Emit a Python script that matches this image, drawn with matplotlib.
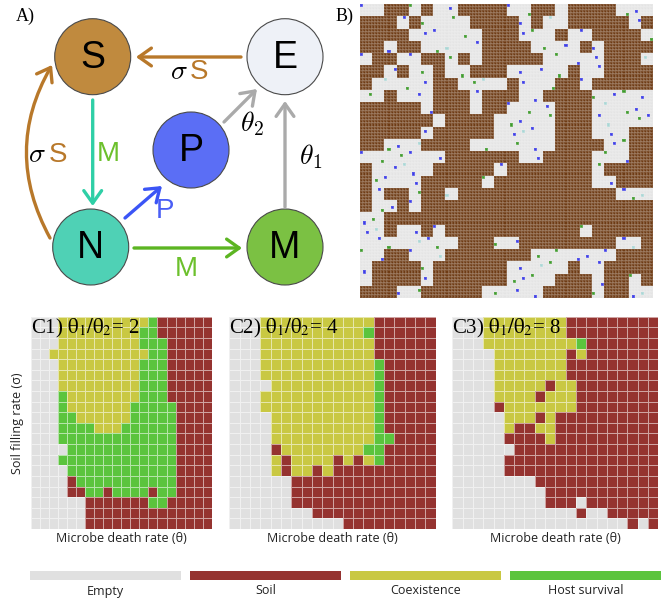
import matplotlib
matplotlib.use("Agg")
import matplotlib.pyplot as plt
import numpy as np
from matplotlib.colors import ListedColormap
from matplotlib.patches import Circle, FancyArrowPatch, Rectangle

W, H = 670, 604

# ---- phase diagrams (row 0 = top of the panel) ----
# E = empty, S = soil, C = coexistence, H = host survival
phase_keys = "ESCH"
phase_names = ["Empty", "Soil", "Coexistence", "Host survival"]
phase_colors = ["#e0e0e0", "#953330", "#c9c842", "#5bc43d"]

c1_rows = [
    "EEECCCCCCCCCCHSSSSSS",
    "EEECCCCCCCCCHHSSSSSS",
    "EEECCCCCCCCCHHHSSSSS",
    "EECCCCCCCCCCCHHSSSSS",
    "EEECCCCCCCCCHHHSSSSS",
    "EEECCCCCCCCCHHHSSSSS",
    "EEECCCCCCCCCHHHSSSSS",
    "EEEHCCCCCCCCHHHSSSSS",
    "EEEHCCCCCCCHHHHHSSSS",
    "EEEHHCCCCCCHHHHHSSSS",
    "EEEHHHHCCCHHHHHHSSSS",
    "EEEHHHHHHHHHHHHHSSSS",
    "EEEEHHHHHHHHHHHHSSSS",
    "EEEHHHHHHHHHHHHHSSSS",
    "EEEEHHHHHHHHHHHHSSSS",
    "EEEESHHHHHHHHHHHSSSS",
    "EEEESSHHSHHHHSHHSSSS",
    "EEEEEESSSSSSSHHSSSSS",
    "EEEEEESSSSSSSSSSSSSS",
    "EEEEEESSSSSSSSSSSSSS",
]
c2_rows = [
    "EEECCCCCCCCCCCSSSSSS",
    "EEECCCCCCCCCCHSSSSSS",
    "EEECCCCCCCCCCCSSSSSS",
    "EEECCCCCCCCCCCSSSSSS",
    "EEECCCCCCCCCCCHSSSSS",
    "EEECCCCCCCCCCCHSSSSS",
    "EEEECCCCCCCCCCHSSSSS",
    "EEECCCCCCCCCCCHSSSSS",
    "EEECCCCCCCCCCCHSSSSS",
    "EEEECCCCCCCCCCHSSSSS",
    "EEEECCCCCCCCCCHSSSSS",
    "EEEECCCCCCCCCCHHSSSS",
    "EEEESCCCCCCCCHHSSSSS",
    "EEEECSCCCCSCSCHSSSSS",
    "EEEECSCCSCSSSSSSSSSS",
    "EEEEEESSSSSSSSSSSSSS",
    "EEEEEESSSSSSSSSSSSSS",
    "EEEEEESSSSSSSSSSSSSS",
    "EEEEEEEESSSSSSSSSSSS",
    "EEEEEEEEEEESSSSSSSSS",
]
c3_rows = [
    "EEECCCCCCCCSSSSSSSSS",
    "EEECCCCCCCCSSSSSSSSS",
    "EEECCCCCCCCCHSSSSSSS",
    "EEEECCCCCCCSCSSSSSSS",
    "EEEECCCCCCCSSSSSSSSS",
    "EEEECCCCCCCSSSSSSSSS",
    "EEEECCCCCSCCSSSSSSSS",
    "EEEECCCCSCCCSSSSSSSS",
    "EEEESCCCCCCCSSSSSSSS",
    "EEEEECCCSCSSSSSSSSSS",
    "EEEEECSSCCSSSSSSSSSS",
    "EEEEESSSSCSSSSSSSSSS",
    "EEEEEESSSSSSSSSSSSSS",
    "EEEEESSSSSSSSSSSSSSS",
    "EEEEESSSSSSSSSSSSSSS",
    "EEEEEEEESSSSSSSSSSSS",
    "EEEEEEEEESSSSSSSSSSS",
    "EEEEEEEEESSSESSSSSSS",
    "EEEEEEEEEEEESEESSSSS",
    "EEEEEEEEEEEEEEEEESES",
]
ratio_values = [2, 4, 8]

# ---- lattice snapshot: '#' soil, '.' empty, 'b' parasite, 'g' microbe, 't' nurse ----
lattice_rows = [
    "b.##g#.b####bg##.####gb.",
    "###b#g.g.####b#t.#####b#",
    "####.bb.g.###bg.#.b####g",
    "##b##.gt.b####.gb.#b####",
    "b##.b##g#.#####.gb.b###t",
    "##b#.g#.g###.bb.g#.b####",
    "#.tg.b##.gt.#b.g##b#####",
    "g.#.b.###b###.b####gbg.b",
    "#####b###.##bg.b###.tgb.",
    "######.####.gb.g###bt.gb",
    "#####b#####.btb.###.b.##",
    "##gbt####.g.g.b.####bg##",
    "bg.gb.b######.b####.gb##",
    "#.btb.#####b#######g####",
    "#gb.b#####g########.b###",
    "#b##g##t#############bgt",
    "#gb#b###################",
    "bg######################",
    "bt#.b#b###########g#####",
    ".bg.tbg.###gb########bt#",
    "gb##b.t#######g.gbb.b###",
    "b####g######.btg.#.b####",
    ".####b######gbg.###b##g#",
    "###bg#####.gb.b####g##bt",
]
lattice_colors = ["#e4e4e4", "#6e3b14", "#3c3ce6", "#3e9a2c", "#a9d6d4"]

plt.rcParams["mathtext.fontset"] = "stix"
fig = plt.figure(figsize=(W / 100, H / 100), dpi=100)


def px_axes(x0, y0, x1, y1):
    return fig.add_axes([x0 / W, 1 - y1 / H, (x1 - x0) / W, (y1 - y0) / H])


# overlay in pixel coordinates for the network diagram and legend
ov = px_axes(0, 0, W, H)
ov.set_xlim(0, W)
ov.set_ylim(H, 0)
ov.axis("off")

nodes = {
    "S": ((92.7, 56.7), "#c08a3e"),
    "E": ((285, 56.7), "#eef1f7"),
    "P": ((191, 150), "#5b6ef5"),
    "N": ((90.7, 247), "#4fd1b5"),
    "M": ((285, 247), "#7bc143"),
}
for name, (xy, col) in nodes.items():
    ov.add_patch(Circle(xy, 38, facecolor=col, edgecolor="#4a4a4a", lw=0.8))
    ov.text(xy[0], xy[1] + 1, name, ha="center", va="center", fontsize=27,
            family="Liberation Sans", color="black")

brown = "#b8782a"
arrows = [
    ((241, 57), (136, 57), brown, "arc3"),
    ((92.7, 100), (92.7, 206), "#2fcfa6", "arc3"),
    ((125, 218), (162, 186), "#3b55f6", "arc3"),
    ((134, 248), (242, 248), "#5cb522", "arc3"),
    ((224, 122), (257, 89), "#aaaaaa", "arc3"),
    ((285, 207), (285, 101), "#aaaaaa", "arc3"),
    ((50, 238), (52, 65), brown, "arc3,rad=-0.28"),
]
for a, b, col, conn in arrows:
    ov.add_patch(FancyArrowPatch(a, b, arrowstyle="->,head_length=0.45,head_width=0.32",
                                 mutation_scale=20, lw=2.4, color=col,
                                 connectionstyle=conn, shrinkA=0, shrinkB=0))

lab = dict(ha="center", va="center", fontsize=20)
ov.text(179, 71, r"$\sigma$", color="black", math_fontfamily="cm", **lab)
ov.text(199, 72, "S", color=brown, family="Liberation Sans", **lab)
ov.text(37, 154, r"$\sigma$", color="black", math_fontfamily="cm", **lab)
ov.text(58, 155, "S", color=brown, family="Liberation Sans", **lab)
ov.text(108, 154, "M", color="#6cc02c", family="Liberation Sans", **lab)
ov.text(165, 211, "P", color="#4a5ef5", family="Liberation Sans", **lab)
ov.text(186, 269, "M", color="#6cc02c", family="Liberation Sans", **lab)
ov.text(252, 124, r"$\theta_2$", color="black", math_fontfamily="cm", **lab)
ov.text(311, 157, r"$\theta_1$", color="black", math_fontfamily="cm", **lab)

ov.text(16, 16, "A)", fontsize=13, family="Liberation Serif", va="center")
ov.text(336, 16, "B)", fontsize=13, family="Liberation Serif", va="center")

# ---- panel B: lattice ----
axB = px_axes(360, 4, 653, 298)
key = {".": 0, "#": 1, "b": 2, "g": 3, "t": 4}
assert all(len(r) == 24 for r in lattice_rows)
coarse = np.array([[key[ch] for ch in row] for row in lattice_rows])
k = 4
fine = np.kron(np.where(coarse == 1, 1, 0), np.ones((k, k), dtype=int))
for r, c in zip(*np.nonzero(coarse >= 2)):
    dr, dc = (r * 7 + c * 3) % k, (r * 5 + c * 11) % k
    fine[r * k + dr, c * k + dc] = coarse[r, c]
axB.pcolormesh(fine, cmap=ListedColormap(lattice_colors), vmin=-0.5, vmax=4.5,
               edgecolors=(1, 1, 1, 0.12), linewidth=0.3)
axB.set_xlim(0, fine.shape[1])
axB.set_ylim(fine.shape[0], 0)
axB.axis("off")

# ---- panels C1-C3 ----
cmap = ListedColormap(phase_colors)
boxes = [(31, 211.7), (229.3, 435.7), (452.3, 658.3)]
for i, (rows, ratio, (x0, x1)) in enumerate(zip([c1_rows, c2_rows, c3_rows], ratio_values, boxes)):
    assert all(len(r) == 20 for r in rows) and len(rows) == 20
    grid = np.array([[phase_keys.index(ch) for ch in r] for r in rows])
    ax = px_axes(x0, 316.7, x1, 529)
    ax.pcolormesh(grid, cmap=cmap, vmin=-0.5, vmax=3.5,
                  edgecolors=(1, 1, 1, 0.55), linewidth=0.7)
    ax.set_xlim(0, 20)
    ax.set_ylim(20, 0)
    ax.axis("off")
    ax.text(0.0, 1.0, rf"C{i + 1}) $\mathrm{{\theta}}_1/\mathrm{{\theta}}_2$= {ratio}",
            transform=ax.transAxes, ha="left", va="top", fontsize=15,
            family="Liberation Serif")
    ax.text(0.5, -0.047, "Microbe death rate (θ)", transform=ax.transAxes,
            ha="center", va="center", fontsize=9, family="Open Sans", color="#222222")

ov.text(18, 423, "Soil filling rate (σ)", rotation=90, ha="center", va="center",
        fontsize=9, family="Open Sans", color="#222222")

# ---- legend ----
for j, (name, col) in enumerate(zip(phase_names, phase_colors)):
    x0 = 30 + j * 160
    ov.add_patch(Rectangle((x0, 571), 151, 9, facecolor=col, edgecolor="none"))
    ov.text(x0 + 75.5, 591, name, ha="center", va="center", fontsize=9,
            family="Open Sans", color="#222222")

fig.savefig("out.png", dpi=100)
